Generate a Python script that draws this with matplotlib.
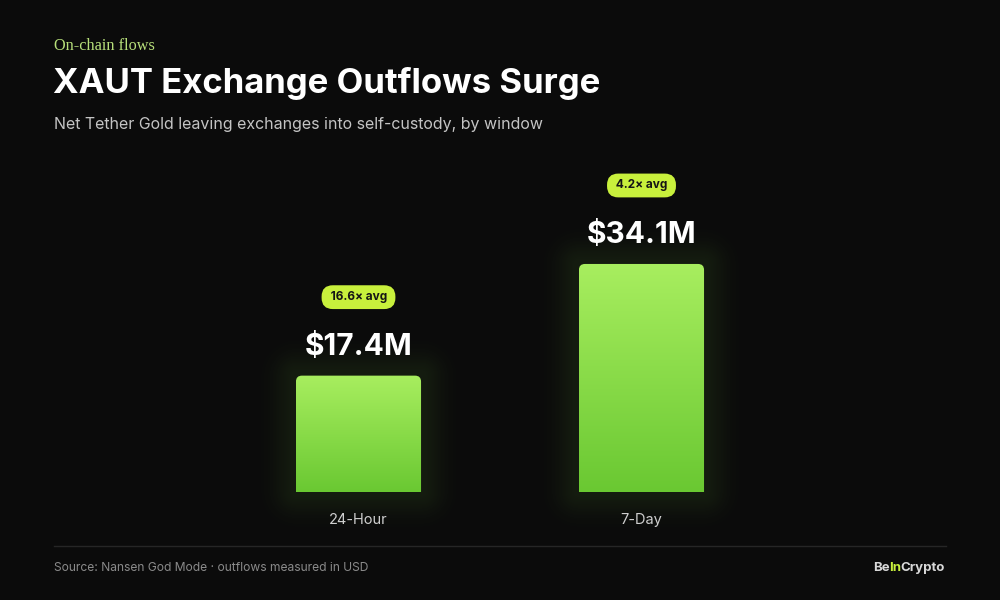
import matplotlib
matplotlib.use("Agg")
import matplotlib.pyplot as plt
import numpy as np
from matplotlib.path import Path
from matplotlib.patches import PathPatch
from matplotlib.colors import LinearSegmentedColormap

# data
windows = ["24-Hour", "7-Day"]
outflows = [17.4, 34.1]          # $M
value_labels = ["$17.4M", "$34.1M"]
avg_tags = ["16.6\u00d7 avg", "4.2\u00d7 avg"]

BG = "#0b0b0b"
LIME = "#c8f03c"
W, H = 1000, 600

plt.rcParams['font.family'] = ['Inter', 'DejaVu Sans']

fig = plt.figure(figsize=(10, 6), dpi=100, facecolor=BG)


def fx(x):
    return x / W


def fy(y):
    return 1 - y / H


# axes placed so bar centres land at 358.5 / 641.5 px, baseline at 492 px
ax = fig.add_axes([fx(217), fy(492), 566 / W, 321 / H])
ax.set_facecolor(BG)
ax.patch.set_alpha(0)
for s in ax.spines.values():
    s.set_visible(False)
ax.set_xticks([])
ax.set_yticks([])

x = np.arange(len(windows))
bars = ax.bar(x, outflows, width=0.442, color="none", zorder=1)

XMIN, XMAX, YMIN, YMAX = -0.5, 1.5, 0, 48
PX_X = 1 / 283.0        # data units per pixel
PX_Y = 48 / 321.0
grad = LinearSegmentedColormap.from_list("g", ["#6ac832", "#a8ee5f"])
rx, ry = 6 * PX_X, 6 * PX_Y  # corner radius


def top_rounded(x0, x1, y0, y1):
    verts = [(x0, y0), (x0, y1 - ry), (x0, y1), (x0 + rx, y1),
             (x1 - rx, y1), (x1, y1), (x1, y1 - ry), (x1, y0), (x0, y0)]
    codes = [Path.MOVETO, Path.LINETO, Path.CURVE3, Path.CURVE3,
             Path.LINETO, Path.CURVE3, Path.CURVE3, Path.LINETO, Path.CLOSEPOLY]
    return Path(verts, codes)


# soft glow behind the bars, as one rgba image
gx0, gx1, gy0, gy1 = XMIN, XMAX, -50 * PX_Y, YMAX
gxs = np.linspace(gx0, gx1, 400)
gys = np.linspace(gy0, gy1, 300)
GX, GY = np.meshgrid(gxs, gys)
glow_a = np.zeros_like(GX)
for b in bars:
    x0, x1, h = b.get_x(), b.get_x() + b.get_width(), b.get_height()
    dx = np.maximum(np.maximum(x0 - GX, GX - x1), 0) / PX_X
    dy = np.maximum(np.maximum(0 - GY, GY - h), 0) / PX_Y
    d = np.hypot(dx, dy)
    glow_a = np.maximum(glow_a, 0.10 * np.exp(-(d / 22.0) ** 2))
rgba = np.zeros(GX.shape + (4,))
rgba[..., 0], rgba[..., 1], rgba[..., 2] = 0.42, 0.72, 0.22
rgba[..., 3] = glow_a
ax.imshow(rgba, origin="lower", extent=[gx0, gx1, gy0, gy1], aspect="auto",
          zorder=0.5, clip_on=False, interpolation="bilinear")

for b, lab, tag, name in zip(bars, value_labels, avg_tags, windows):
    x0, w, h = b.get_x(), b.get_width(), b.get_height()
    x1 = x0 + w
    cx = x0 + w / 2
    patch = PathPatch(top_rounded(x0, x1, 0, h), facecolor="none", edgecolor="none")
    ax.add_patch(patch)
    img = ax.imshow(np.linspace(0, 1, 256).reshape(-1, 1), cmap=grad, origin="lower",
                    extent=[x0, x1, 0, h], aspect="auto", zorder=2)
    img.set_clip_path(patch)

    ax.annotate(lab, (cx, h), xytext=(0, 15), textcoords="offset points",
                ha="center", va="baseline", color="white", fontsize=21.5,
                fontweight="bold", annotation_clip=False)
    ax.annotate(" " + tag + " ", (cx, h), xytext=(0, 56.5), textcoords="offset points",
                ha="center", va="center", color="#151515", fontsize=8.5,
                fontweight="bold", annotation_clip=False,
                bbox=dict(boxstyle="round,pad=0.5,rounding_size=0.95",
                          fc=LIME, ec="none"))
    ax.annotate(name, (cx, 0), xytext=(0, -20), textcoords="offset points",
                ha="center", va="center", color="#cfcfcf", fontsize=10.5,
                annotation_clip=False)

ax.set_xlim(XMIN, XMAX)
ax.set_ylim(YMIN, YMAX)

# header
fig.text(fx(54), fy(46), "On-chain flows", family=["Liberation Serif"],
         fontsize=11.7, color="#b7df7a", va="center", ha="left")
fig.text(fx(53), fy(83), "XAUT Exchange Outflows Surge", fontsize=25,
         fontweight="bold", color="white", va="center", ha="left")
fig.text(fx(54), fy(125), "Net Tether Gold leaving exchanges into self-custody, by window",
         fontsize=11.5, color="#c4c4c4", va="center", ha="left")

# footer
fig.add_artist(plt.Line2D([fx(54), fx(946)], [fy(546), fy(546)], color="#262626", lw=1))
fig.text(fx(54), fy(568), "Source: Nansen God Mode \u00b7 outflows measured in USD",
         fontsize=8.7, color="#8a8a8a", va="center", ha="left")
t1 = fig.text(fx(873), fy(568), "Be", fontsize=9.5, fontweight="bold",
              color="#d8d8d8", va="center", ha="left")
t2 = ax.annotate("In", xy=(1, 0.5), xycoords=t1, xytext=(-0.5, 0),
                 textcoords="offset points", fontsize=9.5, fontweight="bold",
                 color=LIME, va="center", ha="left", annotation_clip=False)
t3 = ax.annotate("Crypto", xy=(1, 0.5), xycoords=t2, xytext=(-0.5, 0),
                 textcoords="offset points", fontsize=9.5, fontweight="bold",
                 color="#d8d8d8", va="center", ha="left", annotation_clip=False)

fig.savefig("out.png", dpi=100, facecolor=BG)
